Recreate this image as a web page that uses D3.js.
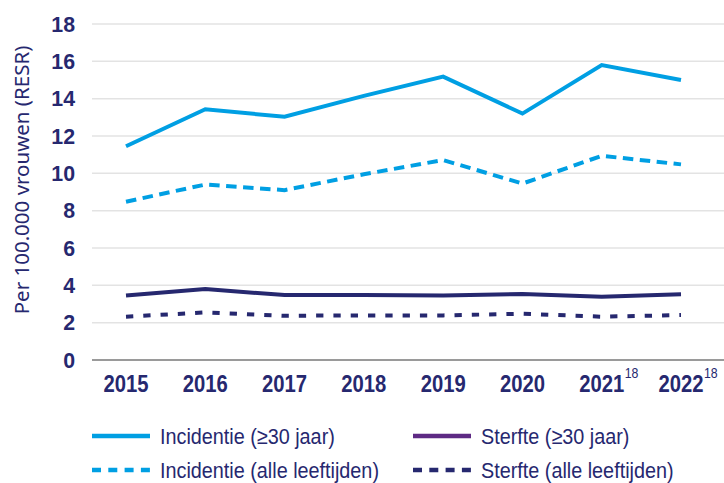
<!DOCTYPE html>
<html>
<head>
<meta charset="utf-8">
<script src="https://cdn.jsdelivr.net/npm/d3@7"></script>
<style>
  body { margin: 0; background: #fff; }
  svg { display: block; }
</style>
</head>
<body>
<script>
// data
const years = ["2015", "2016", "2017", "2018", "2019", "2020", "2021", "2022"];
const yearNotes = ["", "", "", "", "", "", "18", "18"];
const incidentie30 = [11.45, 13.43, 13.03, 14.15, 15.18, 13.2, 15.8, 15.0];
const incidentieAlle = [8.48, 9.4, 9.1, 9.95, 10.71, 9.45, 10.94, 10.48];
const sterfte30 = [3.45, 3.8, 3.48, 3.48, 3.45, 3.54, 3.39, 3.52];
const sterfteAlle = [2.32, 2.55, 2.37, 2.39, 2.39, 2.48, 2.32, 2.41];
const yTicks = [0, 2, 4, 6, 8, 10, 12, 14, 16, 18];

const lightBlue = "#009fe3";
const navy = "#26286f";
const purple = "#5e2a84";

const series = [
  {name: "Incidentie (≥30 jaar)", values: incidentie30, color: lightBlue, dash: null, legendColor: lightBlue},
  {name: "Sterfte (≥30 jaar)", values: sterfte30, color: navy, dash: null, legendColor: purple},
  {name: "Incidentie (alle leeftijden)", values: incidentieAlle, color: lightBlue, dash: "10.5,6.5", legendColor: lightBlue},
  {name: "Sterfte (alle leeftijden)", values: sterfteAlle, color: navy, dash: "7.3,10", legendColor: navy}
];

const font = "'Liberation Sans', Arial, sans-serif";
const squeeze = 0.88; // reference font is a condensed face

const outerWidth = 724;
const outerHeight = 483;

const svg = d3.select("body").append("svg")
  .attr("width", outerWidth)
  .attr("height", outerHeight);

const gridLeft = 92;
const gridRight = 724;

const xScale = d3.scalePoint()
  .domain(years)
  .range([126, 681]);

const yScale = d3.scaleLinear()
  .domain([0, 18])
  .range([360, 24]);

// gridlines
svg.append("g")
  .selectAll("line")
  .data(yTicks.filter(d => d > 0))
  .join("line")
  .attr("x1", gridLeft)
  .attr("x2", gridRight)
  .attr("y1", d => yScale(d))
  .attr("y2", d => yScale(d))
  .attr("stroke", "#e3e3e3")
  .attr("stroke-width", 1.5);

// y tick labels
svg.append("g")
  .selectAll("text")
  .data(yTicks)
  .join("text")
  .attr("transform", d => `translate(75,${yScale(d) + 7.5}) scale(0.97,1)`)
  .attr("text-anchor", "end")
  .attr("font-family", font)
  .attr("font-weight", "bold")
  .attr("font-size", 22)
  .attr("fill", navy)
  .text(d => d);

// y axis title
svg.append("text")
  .attr("transform", "translate(28.5,180) rotate(-90)")
  .attr("text-anchor", "middle")
  .attr("font-family", "'Noto Sans', sans-serif")
  .attr("font-size", 20.5)
  .attr("fill", navy)
  .text("Per 100.000 vrouwen (RESR)");

// baseline
svg.append("line")
  .attr("x1", gridLeft)
  .attr("x2", gridRight)
  .attr("y1", yScale(0))
  .attr("y2", yScale(0))
  .attr("stroke", "#9a9a9a")
  .attr("stroke-width", 2);

// x labels with superscripts
svg.append("g")
  .selectAll("text")
  .data(years)
  .join("text")
  .attr("transform", d => `translate(${xScale(d)},392) scale(${squeeze},1)`)
  .attr("text-anchor", "middle")
  .attr("font-family", font)
  .attr("font-weight", "bold")
  .attr("font-size", 23)
  .attr("fill", navy)
  .text(d => d);

svg.append("g")
  .selectAll("text")
  .data(years.filter((d, i) => yearNotes[i] !== ""))
  .join("text")
  .attr("transform", d => `translate(${xScale(d) + 23},378) scale(${squeeze},1)`)
  .attr("font-family", font)
  .attr("font-size", 14)
  .attr("fill", navy)
  .text(d => yearNotes[years.indexOf(d)]);

// lines
const line = d3.line()
  .x((d, i) => xScale(years[i]))
  .y(d => yScale(d));

svg.append("g")
  .selectAll("path")
  .data(series)
  .join("path")
  .attr("fill", "none")
  .attr("stroke", d => d.color)
  .attr("stroke-width", 4)
  .attr("stroke-dasharray", d => d.dash)
  .attr("d", d => line(d.values));

// legend
const legendPos = [[92, 436], [413, 436], [92, 470], [413, 470]];
const legend = svg.append("g")
  .selectAll("g")
  .data(series)
  .join("g")
  .attr("transform", (d, i) => `translate(${legendPos[i][0]},${legendPos[i][1]})`);

legend.append("line")
  .attr("x1", 0)
  .attr("x2", 58)
  .attr("stroke", d => d.legendColor)
  .attr("stroke-width", 4.5)
  .attr("stroke-dasharray", d => d.dash ? "9,7.3" : null);

legend.append("text")
  .attr("transform", `translate(68,8) scale(${squeeze},1)`)
  .attr("font-family", font)
  .attr("font-size", 22.5)
  .attr("fill", navy)
  .text(d => d.name);
</script>
</body>
</html>
